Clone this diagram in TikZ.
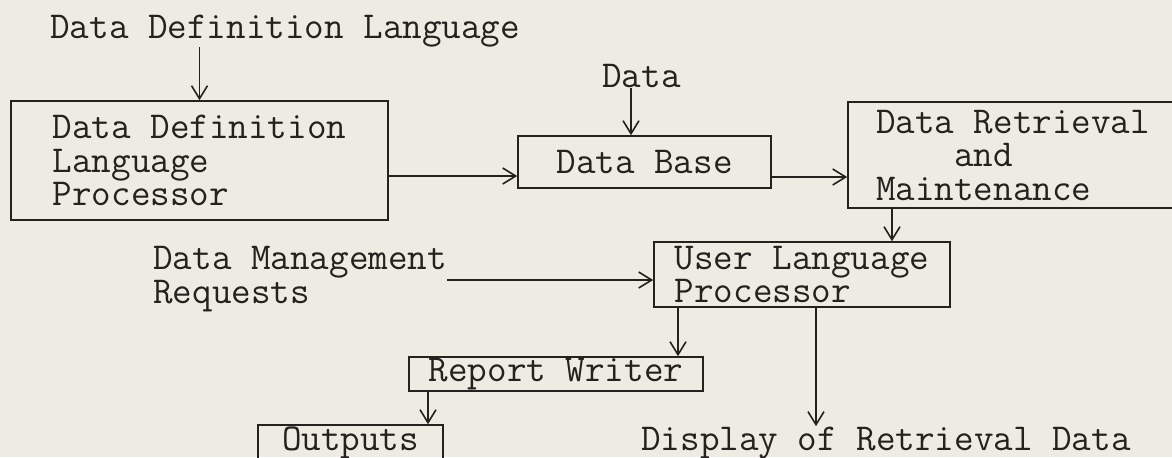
\documentclass[tikz,border=0pt]{standalone}
\usepackage{fontspec}
\usetikzlibrary{arrows.meta}

\definecolor{paper}{RGB}{236,236,226}
\definecolor{ink}{RGB}{38,33,30}

\tikzset{
  typed/.style={font=\ttfamily\fontsize{19pt}{16.75pt}\selectfont, text=ink, inner sep=0pt},
  blk/.style={typed, draw=ink, line width=0.8pt, align=left},
  arr/.style={draw=ink, line width=0.8pt, -{Straight Barb[length=6.5pt,width=8pt]}}
}

\begin{document}
\begin{tikzpicture}[x=0.5pt,y=0.5pt,yscale=-1,xscale=1]
    \useasboundingbox (0,0) rectangle (1172,457);
    \fill[paper] (0,0) rectangle (1172,457);

    %Shape: Rectangle [ddl processor]
    \node[blk, minimum width=188.5pt, minimum height=59.5pt] (ddlp) at (199.5,160.5) {Data Definition\\Language\\Processor};
    %Shape: Rectangle [data base]
    \node[blk, minimum width=126.5pt, minimum height=26pt] (dbase) at (644.5,162) {Data Base};
    %Shape: Rectangle [retrieval]
    \node[blk, minimum width=165pt, minimum height=53pt] (retr) at (1013,155) {Data Retrieval\\\hphantom{Data}and\\Maintenance};
    %Shape: Rectangle [user language]
    \node[blk, minimum width=148pt, minimum height=32.5pt] (ulp) at (802,274.5) {User Language\\Processor};
    %Shape: Rectangle [report writer]
    \node[blk, minimum width=147pt, minimum height=17pt] (rwriter) at (556,374) {Report Writer};
    %Shape: Rectangle [outputs]
    \node[blk, minimum width=92.5pt, minimum height=18pt] (outp) at (350.5,443) {Outputs};

    % Text Node
    \node[typed, anchor=base west] (ddlang) at (50,38) {Data Definition Language};
    % Text Node
    \node[typed, anchor=base west] (dtin) at (602,87) {Data};
    % Text Node
    \node[typed, align=left, anchor=north west] (dmreq) at (153,246) {Data Management\\Requests};
    % Text Node
    \node[typed, anchor=base west] (disp) at (641,450) {Display of Retrieval Data};

    %Straight Lines (yscale=-1, so a positive yshift goes down)
    \draw[arr] (ddlang.south -| ddlp.north) -- (ddlp.north);
    \draw[arr] ([xshift=-6.75pt]dbase.north |- dtin.south) -- ([xshift=-6.75pt]dbase.north);
    \draw[arr] ([yshift=7pt]dbase.west -| ddlp.east) -- ([yshift=7pt]dbase.west);
    \draw[arr] ([yshift=7.5pt]dbase.east) -- ([yshift=7.5pt]dbase.east -| retr.west);
    \draw[arr] ([xshift=-60.5pt]retr.south) -- ([xshift=-60.5pt]retr.south |- ulp.north);
    \draw[arr] ([yshift=2.75pt]ulp.west -| dmreq.east) -- ([yshift=2.75pt]ulp.west);
    \draw[arr] ([xshift=61pt]rwriter.north |- ulp.south) -- ([xshift=61pt]rwriter.north);
    \draw[arr] ([xshift=38.75pt]outp.north |- rwriter.south) -- ([xshift=38.75pt]outp.north);
    \draw[arr] ([xshift=7pt]ulp.south) -- ([xshift=7pt]ulp.south |- disp.north);

\end{tikzpicture}
\end{document}
